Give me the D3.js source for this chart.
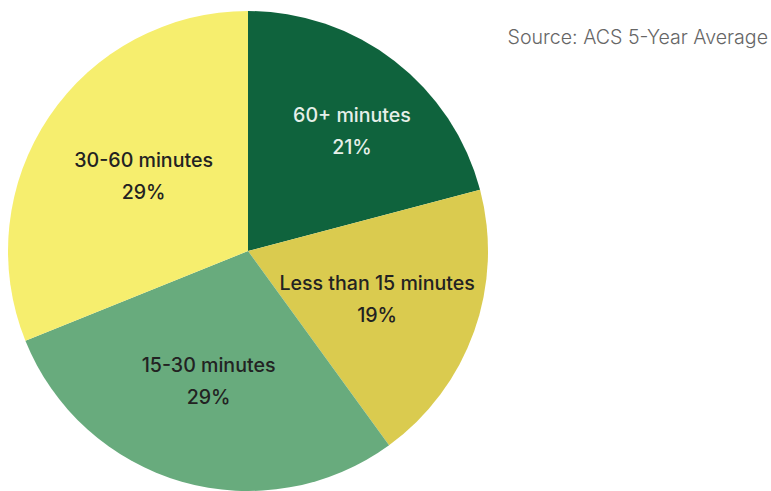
<!DOCTYPE html>
<html>
<head>
<meta charset="utf-8">
<script src="https://cdn.jsdelivr.net/npm/d3@7"></script>
<style>
  html, body { margin: 0; padding: 0; background: #fff; }
  svg { display: block; }
</style>
</head>
<body>
<svg id="chart" width="771" height="491"></svg>
<script>
// Data
const categories = ["60+ minutes", "Less than 15 minutes", "15-30 minutes", "30-60 minutes"];
const values = [20.9, 19.1, 28.9, 31.1];
const pctLabels = ["21%", "19%", "29%", "29%"];
const sourceText = "Source: ACS 5-Year Average";

// Styling / layout (kept apart from the data)
const colors = ["#0f633d", "#dacb4f", "#68ab7d", "#f6ee6e"];
const textColors = ["#e6efe9", "#222222", "#222222", "#222222"];
const labelNudge = [[19, -10], [-2, 1], [-1, -4], [11, 3]];

const svg = d3.select("#chart");
const cx = 248, cy = 251, R = 240;

const pie = d3.pie().sort(null).value(d => d.value);
const data = categories.map((c, i) => ({ cat: c, value: values[i], pct: pctLabels[i], i }));
const arcs = pie(data);

const arc = d3.arc().innerRadius(0).outerRadius(R);
const labelArc = d3.arc().innerRadius(R * 0.58).outerRadius(R * 0.58);

const g = svg.append("g").attr("transform", `translate(${cx},${cy})`);

g.selectAll("path.slice")
  .data(arcs)
  .join("path")
  .attr("class", "slice")
  .attr("d", arc)
  .attr("fill", d => colors[d.data.i]);

const labels = g.selectAll("g.label")
  .data(arcs)
  .join("g")
  .attr("class", "label")
  .attr("transform", d => {
    const [x, y] = labelArc.centroid(d);
    const [nx, ny] = labelNudge[d.data.i];
    return `translate(${x + nx},${y + ny})`;
  });

labels.append("text")
  .attr("text-anchor", "middle")
  .attr("y", -9)
  .style("font-family", "Inter, 'Noto Sans', sans-serif")
  .style("font-size", "19.6px")
  .style("font-weight", 500)
  .attr("fill", d => textColors[d.data.i])
  .text(d => d.data.cat);

labels.append("text")
  .attr("text-anchor", "middle")
  .attr("y", 23)
  .style("font-family", "Inter, 'Noto Sans', sans-serif")
  .style("font-size", "19.6px")
  .style("font-weight", 500)
  .attr("fill", d => textColors[d.data.i])
  .text(d => d.data.pct);

svg.append("text")
  .attr("x", 768)
  .attr("y", 44)
  .attr("text-anchor", "end")
  .style("font-family", "Inter, 'Noto Sans', sans-serif")
  .style("font-size", "19.6px")
  .style("font-weight", 300)
  .attr("fill", "#666666")
  .text(sourceText);
</script>
</body>
</html>
